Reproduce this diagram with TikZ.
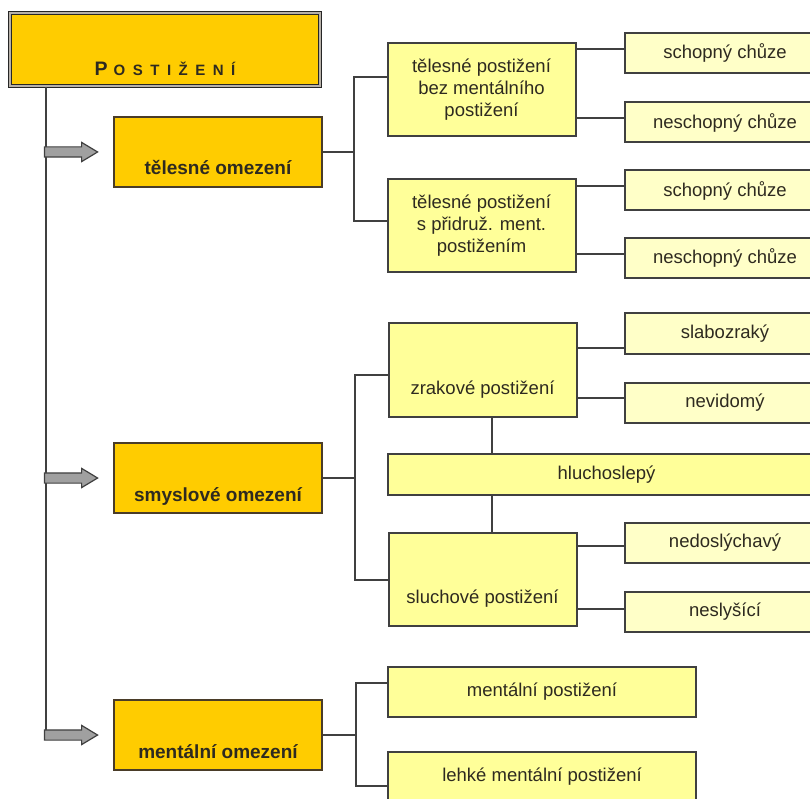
\documentclass[tikz,border=0pt]{standalone}
\usepackage{fontspec}
\setmainfont{Liberation Sans}
\newfontfamily\prolozene[LetterSpace=50]{Liberation Sans}
\usetikzlibrary{positioning,shapes.arrows}
\definecolor{Zlata}{HTML}{FFCC00}
\definecolor{SvetleZluta}{HTML}{FFFF99}
\definecolor{BledeZluta}{HTML}{FFFFC8}
\definecolor{Linka}{HTML}{404040}
\definecolor{Hneda}{HTML}{4A3C28}
\definecolor{Sedy}{HTML}{A0A0A0}
\definecolor{Pismo}{HTML}{2E2A20}

\begin{document}
\begin{tikzpicture}[x=1pt,y=-1pt,node distance=14pt,
        titul/.style={draw=black!85,double=Hneda!40,double distance=2pt,line width=1.3pt,fill=Zlata,minimum width=310pt,minimum height=73pt,inner sep=0pt,text height=63pt,text depth=10pt,text=Pismo,font=\prolozene\bfseries\fontsize{15}{22}\selectfont},
        kategorie/.style={draw=Hneda,line width=2.5pt,fill=Zlata,minimum width=208pt,minimum height=70pt,inner sep=0pt,text height=58pt,text depth=12pt,text=Pismo,font=\bfseries\fontsize{19}{22}\selectfont},
        podkat/.style={draw=Linka,line width=2pt,fill=SvetleZluta,minimum width=188pt,inner sep=0pt,align=center,text=Pismo,font=\fontsize{18.5}{22}\selectfont},
        list/.style={draw=Linka,line width=2pt,fill=BledeZluta,minimum width=200pt,minimum height=40pt,inner sep=0pt,text=Pismo,font=\fontsize{18.5}{22}\selectfont},
        sipka/.style={single arrow,draw=Linka,line width=1.2pt,fill=Sedy,minimum height=53pt,single arrow head extend=4.5pt,single arrow tip angle=62,inner xsep=0pt,inner ysep=4.5pt},
        spoj/.style={draw=Linka,line width=2pt}]
        \useasboundingbox (0,0) rectangle (810,799);
        \fill[white] (0,0) rectangle (810,799);
        \clip (0,0) rectangle (810,799);
        % hlavni kategorie
        \node[titul] (postizeni) at (165,49.5) {{\fontsize{19.5}{22}\selectfont P}\kern6pt OSTIŽENÍ};
        \node[kategorie] (telesne) at (218,152) {tělesné omezení};
        \node[kategorie] (smyslove) at (218,478) {smyslové omezení};
        \node[kategorie] (mentalni) at (218,735) {mentální omezení};
        \draw[spoj] ([xshift=37pt]postizeni.south west) |- ([xshift=-40pt]mentalni.west);
        \node[sipka,left=of telesne] (s1) {};
        \node[sipka,left=of smyslove] (s2) {};
        \node[sipka,left=of mentalni] (s3) {};
        % telesne omezeni
        \node[podkat,minimum height=93pt] (bezment) at (481.5,89.5) {tělesné postižení\\bez mentálního\\postižení};
        \node[podkat,minimum height=93pt] (sment) at (481.5,225.5) {tělesné postižení\\s přidruž. ment.\\postižením};
        \node[list] (chuze1) at (725,53) {schopný chůze};
        \node[list] (nechuze1) at (725,122.5) {neschopný chůze};
        \node[list] (chuze2) at (725,190.5) {schopný chůze};
        \node[list] (nechuze2) at (725,258) {neschopný chůze};
        \draw[spoj] (telesne.east) -- ++(31,0) coordinate (r1);
        \draw[spoj] ([yshift=12.5pt]bezment.west) -| (r1) |- ([yshift=4.5pt]sment.west);
        \draw[spoj] ([yshift=4pt]chuze1.west) -- ([yshift=4pt]chuze1.west -| bezment.east);\draw[spoj] ([yshift=4pt]nechuze1.west) -- ([yshift=4pt]nechuze1.west -| bezment.east);
        \draw[spoj] ([yshift=4pt]chuze2.west) -- ([yshift=4pt]chuze2.west -| sment.east);\draw[spoj] ([yshift=4pt]nechuze2.west) -- ([yshift=4pt]nechuze2.west -| sment.east);
        % smyslove omezeni
        \node[podkat,minimum height=94pt,text height=71pt,text depth=23pt] (zrakove) at (482.5,370) {zrakové postižení};
        \node[podkat,minimum width=437pt,minimum height=41pt] (hluchoslepy) at (606.5,474.5) {hluchoslepý};
        \node[podkat,minimum height=93pt,text height=70pt,text depth=23pt] (sluchove) at (482.5,579.5) {sluchové postižení};
        \node[list,minimum height=41pt] (slabozraky) at (725,333.5) {slabozraký};
        \node[list] (nevidomy) at (725,403) {nevidomý};
        \node[list] (nedoslychavy) at (725,543) {nedoslýchavý};
        \node[list] (neslysici) at (725,612) {neslyšící};
        \draw[spoj] (smyslove.east) -- ++(32,0) coordinate (r2);
        \draw[spoj] ([yshift=-5pt]zrakove.west) -| (r2) |- (sluchove.west);
        \draw[spoj] ([xshift=9.5pt]zrakove.south) -- ([xshift=9.5pt]zrakove.south |- hluchoslepy.north);\draw[spoj] ([xshift=9.5pt]sluchove.north) -- ([xshift=9.5pt]sluchove.north |- hluchoslepy.south);
        \draw[spoj] ([yshift=-14.5pt]slabozraky.west) -- ([yshift=-14.5pt]slabozraky.west -| zrakove.east);\draw[spoj] ([yshift=5pt]nevidomy.west) -- ([yshift=5pt]nevidomy.west -| zrakove.east);
        \draw[spoj] ([yshift=-3pt]nedoslychavy.west) -- ([yshift=-3pt]nedoslychavy.west -| sluchove.east);\draw[spoj] ([yshift=3pt]neslysici.west) -- ([yshift=3pt]neslysici.west -| sluchove.east);
        % mentalni omezeni
        \node[podkat,minimum width=308pt,minimum height=50pt] (mentpost) at (542,692) {mentální postižení};
        \node[podkat,minimum width=308pt,minimum height=50pt] (lehke) at (542,777) {lehké mentální postižení};
        \draw[spoj] (mentalni.east) -- ++(33,0) coordinate (r3);
        \draw[spoj] ([yshift=9pt]mentpost.west) -| (r3) |- ([yshift=-9pt]lehke.west);
      \end{tikzpicture}
\end{document}
